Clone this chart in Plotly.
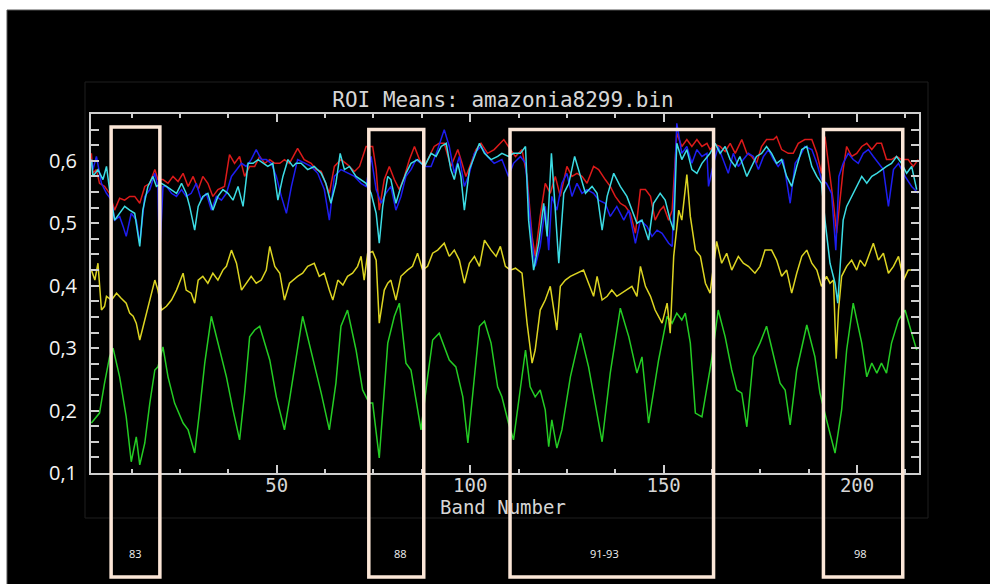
import plotly.graph_objects as go

# ---------------- data (band number, ROI mean) ----------------
green_band = [2.1, 4.2, 5.5, 6.8, 7.7, 9.4, 11.1, 12.4, 13.7, 14.6,
              15.9, 17.2, 18.5, 19.3, 20.6, 21.9, 23.6, 25.8, 27.1, 28.8,
              30.1, 31.4, 33.1, 34.8, 37.0, 38.7, 40.4, 41.7, 43.0, 44.3,
              45.6, 48.2, 49.9, 52.0, 53.3, 56.7, 59.7, 61.5, 63.6, 65.3,
              66.6, 68.3, 70.5, 72.2, 73.9, 74.8, 76.5, 78.7, 80.4, 81.7,
              83.4, 84.7, 86.0, 87.3, 89.0, 90.3, 92.0, 93.3, 94.6, 96.3,
              98.1, 99.4, 101.1, 102.4, 103.7, 105.4, 107.1, 108.2, 109.9, 111.2,
              114.3, 115.5, 116.8, 118.1, 119.4, 120.3, 121.1, 122.4, 123.7, 125.9,
              128.5, 130.6, 132.3, 134.1, 136.2, 138.8, 141.0, 143.1, 144.4, 146.1,
              148.7, 150.9, 152.2, 153.4, 154.7, 155.6, 156.9, 158.2, 159.9, 162.4,
              164.1, 165.9, 167.6, 168.9, 170.2, 171.5, 173.2, 174.9, 176.6, 178.4,
              180.1, 181.4, 182.7, 184.4, 187.0, 189.1, 190.4, 192.1, 194.3, 196.0,
              197.3, 199.0, 201.2, 202.5, 203.8, 205.1, 206.3, 207.6, 208.9, 210.7,
              212.4, 214.1, 215.4]
green_val = [.180, .196, .244, .286, .300, .254, .190, .118, .158, .113,
             .148, .212, .265, .270, .302, .254, .212, .180, .169, .132,
             .201, .276, .351, .308, .254, .201, .153, .228, .318, .329,
             .335, .281, .222, .169, .217, .351, .276, .228, .169, .244,
             .335, .361, .297, .233, .212, .212, .124, .308, .351, .372,
             .276, .265, .217, .169, .254, .313, .324, .302, .281, .270,
             .222, .148, .254, .335, .343, .308, .238, .222, .180, .153,
             .297, .238, .222, .233, .201, .142, .185, .140, .169, .254,
             .324, .270, .212, .150, .260, .364, .318, .260, .286, .180,
             .281, .351, .340, .356, .345, .356, .308, .196, .190, .281,
             .361, .318, .265, .233, .228, .174, .286, .308, .335, .286,
             .244, .233, .177, .265, .337, .286, .228, .185, .132, .201,
             .297, .372, .308, .254, .276, .260, .276, .260, .308, .345,
             .361, .324, .297]

yellow_band = [2.1, 3.0, 3.8, 4.7, 5.5, 6.0, 7.3, 8.6, 9.8, 11.1,
               12.0, 12.9, 13.7, 14.6, 15.9, 17.2, 18.5, 19.3, 20.2, 21.5,
               22.8, 24.1, 25.8, 26.6, 27.9, 28.8, 29.7, 30.9, 32.2, 33.5,
               34.8, 36.1, 37.0, 38.3, 39.6, 40.9, 42.1, 43.4, 44.7, 46.0,
               47.3, 48.2, 49.5, 50.8, 52.0, 53.3, 55.4, 56.7, 58.0, 59.7,
               61.0, 62.3, 63.6, 64.5, 65.8, 67.1, 68.3, 69.6, 70.9, 71.8,
               72.6, 73.5, 74.8, 75.7, 76.5, 77.8, 78.7, 79.5, 80.8, 82.1,
               83.8, 85.1, 86.4, 87.7, 89.0, 90.3, 91.6, 93.3, 94.6, 95.9,
               97.2, 98.5, 99.8, 101.1, 102.4, 103.7, 105.4, 106.7, 107.8, 109.1,
               110.4, 111.7, 113.4, 114.7, 116.0, 116.8, 118.1, 119.4, 120.7, 121.6,
               122.4, 123.3, 124.6, 125.9, 127.6, 129.3, 130.6, 131.9, 132.8, 134.1,
               135.4, 136.6, 137.9, 139.2, 140.5, 141.8, 143.1, 144.0, 145.3, 146.6,
               147.8, 149.6, 150.9, 151.7, 152.6, 153.9, 154.7, 156.0, 156.9, 158.2,
               159.5, 160.8, 162.0, 163.7, 165.0, 166.3, 167.6, 169.3, 170.6, 171.9,
               173.6, 174.9, 176.2, 177.9, 179.2, 180.5, 181.8, 183.1, 184.4, 185.7,
               187.0, 188.3, 189.6, 190.8, 192.1, 193.0, 193.9, 194.6, 195.2, 196.0,
               197.3, 198.6, 199.9, 200.8, 202.0, 203.3, 204.2, 205.5, 206.8, 208.1,
               209.4, 210.7, 212.0, 213.2, 215.0]
yellow_val = [.425, .409, .436, .361, .367, .383, .377, .388, .380, .372,
              .356, .351, .340, .313, .345, .377, .409, .393, .361, .367,
              .377, .393, .420, .393, .388, .372, .409, .415, .404, .420,
              .409, .425, .431, .457, .436, .393, .404, .415, .404, .409,
              .425, .463, .431, .420, .377, .404, .415, .420, .431, .436,
              .415, .420, .393, .377, .409, .401, .415, .420, .431, .447,
              .409, .452, .455, .441, .340, .393, .404, .409, .377, .415,
              .425, .431, .452, .425, .431, .452, .457, .468, .447, .457,
              .441, .404, .436, .447, .431, .473, .457, .447, .463, .431,
              .425, .428, .420, .340, .276, .297, .361, .377, .399, .361,
              .329, .399, .409, .415, .420, .425, .404, .383, .415, .377,
              .383, .393, .383, .388, .393, .399, .383, .431, .399, .383,
              .361, .340, .372, .324, .447, .521, .505, .578, .511, .457,
              .447, .404, .388, .471, .436, .452, .425, .447, .436, .431,
              .420, .431, .457, .457, .441, .415, .425, .388, .420, .447,
              .457, .436, .425, .399, .415, .404, .409, .283, .361, .415,
              .431, .441, .425, .441, .431, .452, .468, .441, .452, .420,
              .431, .447, .409, .425, .425]

red_band = [2.1, 2.5, 3.4, 4.2, 5.5, 6.8, 8.1, 9.4, 10.7, 12.0,
            13.3, 14.6, 15.9, 17.2, 18.5, 19.3, 20.6, 21.9, 23.2, 24.5,
            25.8, 27.1, 28.4, 29.7, 30.9, 32.2, 33.5, 34.8, 36.5, 37.8,
            39.1, 40.4, 41.7, 43.0, 44.3, 45.6, 46.9, 48.2, 49.5, 50.8,
            52.0, 53.3, 55.4, 57.1, 58.9, 60.2, 61.5, 62.7, 63.6, 64.9,
            66.6, 68.3, 70.1, 71.4, 73.1, 74.8, 75.7, 76.5, 77.8, 79.1,
            80.4, 81.7, 83.0, 84.3, 85.6, 86.9, 88.2, 89.4, 90.7, 92.0,
            93.3, 95.0, 96.8, 97.6, 98.9, 100.2, 101.5, 102.8, 104.5, 106.2,
            108.7, 110.4, 111.7, 113.4, 114.7, 116.0, 116.8, 118.1, 119.4, 120.7,
            122.0, 123.3, 125.0, 126.3, 127.6, 128.9, 130.2, 131.9, 133.2, 134.9,
            136.2, 137.5, 138.8, 140.1, 141.4, 142.7, 144.0, 145.3, 146.6, 147.8,
            149.1, 150.0, 151.3, 152.2, 153.4, 154.7, 156.0, 157.3, 158.6, 159.9,
            161.2, 162.0, 163.3, 164.6, 165.9, 167.2, 168.5, 170.2, 171.5, 172.8,
            174.0, 175.3, 176.6, 178.4, 179.2, 180.5, 182.2, 183.5, 184.8, 186.5,
            188.3, 189.6, 190.8, 191.7, 193.0, 193.9, 194.7, 195.6, 196.4, 197.3,
            198.6, 199.9, 201.2, 202.5, 203.8, 205.1, 206.3, 207.6, 208.9, 210.2,
            211.5, 213.2, 214.5, 215.8]
red_val = [.612, .580, .586, .564, .559, .548, .521, .540, .537, .543,
           .543, .532, .559, .564, .586, .570, .570, .564, .575, .567,
           .580, .559, .575, .554, .575, .564, .543, .554, .559, .610,
           .596, .607, .575, .591, .591, .607, .596, .602, .596, .596,
           .602, .596, .620, .602, .596, .586, .583, .562, .548, .591,
           .602, .594, .583, .591, .623, .623, .586, .521, .570, .591,
           .570, .554, .575, .602, .623, .602, .591, .607, .623, .628,
           .628, .591, .618, .602, .575, .596, .618, .628, .612, .618,
           .634, .618, .607, .618, .575, .479, .447, .511, .564, .548,
           .575, .543, .591, .575, .580, .575, .564, .591, .586, .570,
           .559, .543, .532, .527, .516, .484, .554, .554, .543, .505,
           .521, .527, .505, .521, .644, .623, .634, .623, .634, .623,
           .628, .618, .626, .623, .615, .628, .612, .634, .612, .607,
           .596, .623, .634, .634, .639, .618, .612, .612, .628, .634,
           .634, .612, .580, .639, .580, .532, .484, .543, .586, .623,
           .607, .612, .623, .628, .618, .628, .628, .602, .602, .607,
           .602, .602, .591, .602]

blue_band = [2.1, 2.5, 3.4, 4.7, 6.0, 7.3, 8.1, 9.4, 10.3, 11.1,
             12.4, 13.7, 14.6, 15.9, 17.2, 18.5, 19.3, 19.7, 20.6, 21.5,
             22.8, 24.1, 25.4, 26.6, 27.9, 29.2, 30.5, 31.8, 33.1, 34.4,
             35.7, 37.0, 38.3, 39.6, 40.9, 42.1, 43.4, 44.7, 46.0, 47.3,
             48.6, 49.9, 51.2, 52.5, 53.8, 55.4, 57.1, 58.9, 60.6, 62.3,
             63.6, 64.9, 66.6, 68.3, 70.1, 71.8, 73.1, 74.4, 75.7, 77.0,
             78.2, 79.5, 80.8, 82.1, 83.4, 84.7, 86.0, 87.3, 88.6, 89.9,
             91.6, 93.3, 94.6, 95.9, 97.2, 98.5, 99.8, 101.1, 102.8, 104.5,
             106.2, 108.2, 109.9, 111.2, 113.0, 114.3, 115.1, 116.0, 116.8, 118.1,
             119.4, 120.3, 121.1, 122.4, 123.7, 125.0, 126.3, 127.6, 128.9, 130.2,
             131.9, 133.2, 134.9, 136.2, 137.9, 139.7, 141.0, 142.7, 144.0, 145.7,
             147.0, 148.3, 149.6, 151.3, 152.2, 153.4, 154.7, 156.0, 157.3, 158.6,
             159.9, 161.2, 161.6, 162.9, 164.1, 165.4, 166.7, 168.0, 169.3, 170.6,
             171.9, 173.2, 174.5, 175.8, 177.1, 178.4, 179.6, 180.9, 182.7, 184.0,
             185.2, 186.5, 188.3, 189.6, 190.8, 192.1, 193.4, 194.5, 195.3, 196.4,
             197.7, 199.0, 200.3, 201.6, 202.9, 204.2, 205.5, 206.8, 208.1, 209.4,
             210.7, 212.4, 214.1, 215.8]
blue_val = [.602, .586, .607, .564, .548, .537, .505, .511, .495, .479,
            .516, .505, .468, .543, .554, .580, .559, .441, .559, .559,
            .548, .543, .554, .543, .548, .564, .537, .548, .521, .543,
            .537, .548, .575, .586, .596, .591, .602, .618, .602, .602,
            .596, .575, .543, .516, .559, .602, .596, .591, .580, .554,
            .505, .575, .586, .580, .575, .564, .559, .607, .554, .532,
            .548, .559, .521, .543, .575, .586, .602, .596, .591, .591,
            .618, .650, .623, .580, .607, .559, .580, .612, .623, .607,
            .596, .602, .575, .596, .607, .596, .532, .468, .431, .463,
            .527, .457, .543, .521, .564, .580, .543, .564, .548, .554,
            .548, .537, .532, .511, .527, .505, .521, .468, .505, .495,
            .479, .489, .484, .468, .463, .660, .612, .623, .596, .618,
            .607, .612, .559, .596, .623, .602, .580, .612, .591, .602,
            .612, .607, .586, .607, .618, .602, .591, .602, .532, .596,
            .607, .623, .618, .596, .570, .564, .548, .457, .575, .596,
            .612, .602, .596, .612, .618, .607, .596, .586, .527, .586,
            .596, .575, .559, .548]

cyan_band = [2.1, 2.5, 3.8, 5.1, 6.0, 6.8, 8.1, 9.4, 10.7, 12.0,
             13.3, 14.6, 15.4, 16.7, 18.0, 18.9, 20.2, 21.5, 22.8, 24.1,
             25.4, 26.6, 27.5, 28.8, 29.7, 30.9, 32.2, 33.5, 34.8, 36.1,
             37.4, 38.7, 40.0, 41.3, 42.6, 43.9, 45.2, 46.5, 47.7, 49.0,
             50.3, 51.6, 52.9, 54.2, 55.0, 56.3, 58.0, 59.7, 61.5, 62.7,
             64.0, 65.3, 66.4, 67.5, 68.8, 70.5, 71.8, 73.1, 74.4, 75.7,
             76.5, 77.4, 78.7, 79.5, 80.8, 82.1, 83.4, 84.7, 86.4, 88.2,
             89.9, 91.2, 92.5, 93.8, 95.0, 95.9, 96.8, 97.6, 98.5, 99.8,
             101.1, 102.4, 103.7, 105.4, 107.1, 108.2, 109.9, 111.2, 113.0, 114.3,
             115.1, 116.4, 117.7, 119.0, 119.9, 121.0, 122.0, 122.9, 124.2, 125.5,
             127.0, 128.5, 129.8, 131.5, 132.8, 134.1, 135.4, 137.1, 138.8, 140.5,
             141.8, 143.1, 144.4, 146.1, 147.4, 149.1, 150.4, 151.7, 152.6, 153.4,
             154.7, 156.0, 157.3, 158.6, 159.9, 162.0, 163.3, 164.6, 165.9, 167.2,
             168.5, 169.7, 171.5, 172.8, 174.0, 175.3, 176.6, 177.9, 179.2, 180.5,
             181.8, 183.1, 184.4, 185.7, 187.0, 188.3, 189.6, 190.8, 191.7, 193.0,
             194.3, 195.0, 195.6, 196.4, 197.3, 198.6, 199.9, 201.2, 202.5, 203.8,
             205.1, 206.3, 207.6, 208.9, 210.2, 211.5, 212.8, 214.1, 215.4]
cyan_val = [.602, .575, .586, .570, .591, .554, .505, .516, .527, .521,
            .516, .463, .521, .559, .575, .559, .564, .559, .554, .548,
            .564, .548, .527, .489, .527, .543, .548, .521, .543, .554,
            .548, .537, .559, .527, .596, .596, .602, .596, .591, .596,
            .537, .575, .602, .591, .596, .596, .586, .591, .580, .564,
            .532, .564, .612, .586, .591, .575, .570, .564, .548, .516,
            .468, .527, .575, .570, .532, .559, .580, .596, .602, .591,
            .612, .607, .623, .628, .586, .570, .596, .575, .521, .586,
            .607, .628, .612, .602, .607, .612, .607, .612, .612, .623,
            .505, .425, .468, .532, .479, .612, .521, .436, .548, .564,
            .607, .575, .548, .559, .548, .489, .543, .580, .559, .543,
            .521, .500, .505, .473, .532, .548, .537, .505, .489, .628,
            .602, .618, .586, .580, .596, .612, .628, .612, .623, .602,
            .591, .607, .575, .591, .607, .612, .623, .612, .596, .602,
            .575, .559, .591, .618, .623, .591, .575, .564, .505, .436,
            .404, .372, .425, .505, .527, .543, .559, .575, .564, .575,
            .580, .586, .591, .596, .607, .596, .580, .591, .554]

# highlighted band ranges (band units) and their labels
box_starts = [7.2, 73.8, 110.3, 191.3]
box_ends = [19.8, 88.0, 162.9, 211.8]
box_labels = ["83", "88", "91-93", "98"]
box_label_pos = [13.4, 81.9, 134.6, 200.8]

# ---------------- figure ----------------
series = [
    (green_band, green_val, "#24cc24"),
    (yellow_band, yellow_val, "#dcd422"),
    (red_band, red_val, "#dc1a1a"),
    (blue_band, blue_val, "#1e1ef0"),
    (cyan_band, cyan_val, "#3cdce4"),
]

fig = go.Figure()
for xb, yv, col in series:
    fig.add_trace(go.Scatter(x=xb, y=yv, mode="lines",
                             line=dict(color=col, width=1.5),
                             hoverinfo="skip", showlegend=False))

AX = "#cfcfcf"
TXT = "#d6d6d6"
MONO = "DejaVu Sans Mono"
L, R, T, B = 91, 71, 114, 111
PW, PH = 990 - L - R, 584 - T - B


def px(xp):
    return (xp - L) / PW


def py(yp):
    return (584 - B - yp) / PH


shapes = [
    # white page border (top / left)
    dict(type="rect", xref="paper", yref="paper", x0=-0.3, x1=1.3,
         y0=py(10), y1=py(-20), fillcolor="white", line=dict(width=0)),
    dict(type="rect", xref="paper", yref="paper", x0=px(-20), x1=px(7),
         y0=py(600), y1=py(-20), fillcolor="white", line=dict(width=0)),
    dict(type="line", xref="paper", yref="paper", x0=px(7), x1=px(7),
         y0=py(600), y1=py(10), line=dict(color="#555555", width=1)),
    dict(type="line", xref="paper", yref="paper", x0=px(7), x1=px(1000),
         y0=py(10), y1=py(10), line=dict(color="#555555", width=1)),
    # faint frame of the plot window
    dict(type="rect", xref="paper", yref="paper", x0=px(85), x1=px(928),
         y0=py(518), y1=py(82), line=dict(color="#1e1e1e", width=1)),
]
for i, (a, b) in enumerate(zip(box_starts, box_ends)):
    top = 127 if i == 0 else 129.5
    shapes.append(dict(type="rect", xref="x", yref="paper", x0=a, x1=b,
                       y0=py(577), y1=py(top),
                       line=dict(color="#fbe6d7", width=3.5), layer="above"))

annotations = [
    dict(x=xp, y=py(563), xref="x", yref="paper", text=t, showarrow=False,
         font=dict(family="Open Sans", size=11, color="#f2f2f2"))
    for xp, t in zip(box_label_pos, box_labels)
]
annotations.append(dict(x=px(503), y=py(507), xref="paper", yref="paper",
                        text="Band Number", showarrow=False, yanchor="middle",
                        font=dict(family=MONO, size=19, color=TXT)))

fig.update_layout(
    width=990, height=584, autosize=False,
    margin=dict(l=L, r=R, t=T, b=B, pad=0),
    paper_bgcolor="black", plot_bgcolor="black",
    separators=",.",
    title=dict(text="ROI Means: amazonia8299.bin", x=503 / 990, xanchor="center",
               y=1 - 100 / 584, yanchor="middle", xref="container", yref="container",
               font=dict(family=MONO, size=21, color=TXT)),
    shapes=shapes, annotations=annotations,
    xaxis=dict(range=[2, 216], tick0=0, dtick=50, ticks="inside", ticklen=8,
               tickwidth=1.5, tickcolor=AX, showline=True, linecolor=AX, linewidth=2,
               mirror="ticks", showgrid=False, zeroline=False,
               minor=dict(tick0=0, dtick=12.5, ticks="inside", ticklen=4,
                          tickcolor=AX, tickwidth=1.5, showgrid=False),
               tickfont=dict(family=MONO, size=19, color=TXT),
               ticklabelstandoff=-6),
    yaxis=dict(range=[0.1, 0.675], tick0=0.1, dtick=0.1, tickformat=".1f",
               ticks="inside", ticklen=8, tickwidth=1.5, tickcolor=AX,
               showline=True, linecolor=AX, linewidth=2, mirror="ticks",
               showgrid=False, zeroline=False,
               minor=dict(tick0=0.1, dtick=0.025, ticks="inside", ticklen=8,
                          tickcolor=AX, tickwidth=1.5, showgrid=False),
               tickfont=dict(family="Open Sans", size=20, color="#f4f4f4"),
               ticklabelstandoff=8),
)

fig.write_html("out.html", config={"displayModeBar": False},
               post_script="document.body.style.margin='0';"
                           "document.body.style.padding='0';")
